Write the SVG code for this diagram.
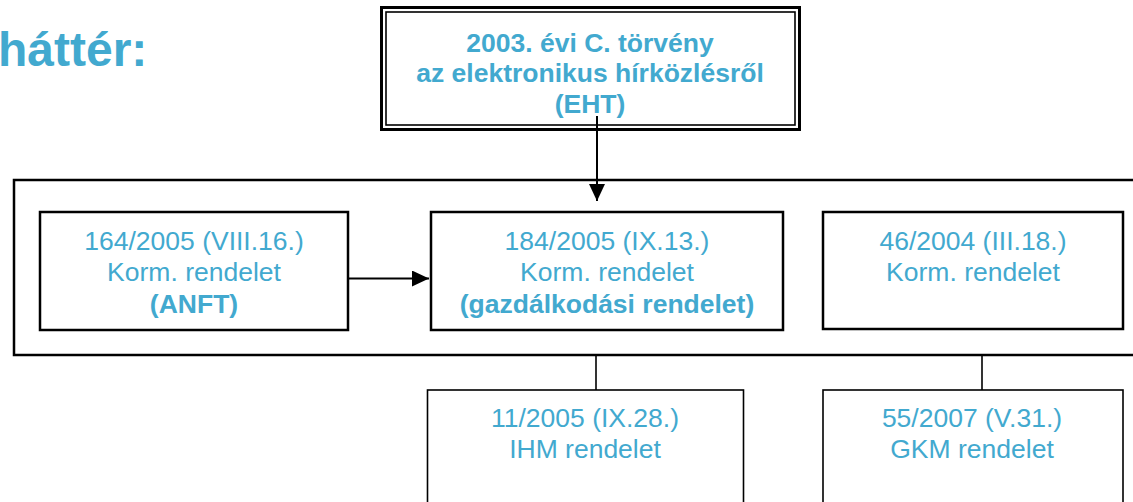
<svg xmlns="http://www.w3.org/2000/svg" width="1133" height="502" viewBox="0 0 1133 502">
<style>
.t{font-family:"Liberation Sans",Arial,sans-serif;fill:#42A9CF;text-anchor:middle;font-size:26.5px}
.b{font-weight:bold}
.box{fill:#fff;stroke:#000;stroke-width:2.5}
.sbox{fill:#fff;stroke:#000;stroke-width:1.6}
.c{stroke:#000;fill:none}
</style>
<defs>
<marker id="ah" markerUnits="userSpaceOnUse" markerWidth="18" markerHeight="16" refX="17" refY="8" orient="auto">
<path d="M0,0 L17,8 L0,16 Z" fill="#000"/>
</marker>
</defs>
<rect width="1133" height="502" fill="#fff"/>
<text x="-2" y="66" style="font-family:'Liberation Sans',Arial,sans-serif;font-weight:bold;font-size:48px;fill:#42A9CF">háttér:</text>
<g id="container">
<rect x="14" y="180" width="1130" height="175" fill="none" stroke="#000" stroke-width="2.5"/>
</g>
<g id="eht">
<rect x="381.5" y="7.5" width="418" height="122" fill="#fff" stroke="#000" stroke-width="3"/>
<rect x="386" y="12" width="409" height="113" fill="none" stroke="#000" stroke-width="1.6"/>
<text class="t b" x="590" y="52">2003. évi C. törvény</text>
<text class="t b" x="590" y="82">az elektronikus hírközlésről</text>
<text class="t b" x="590" y="113">(EHT)</text>
</g>
<g id="anft">
<rect class="box" x="40" y="212" width="308" height="118"/>
<text class="t" x="194" y="250">164/2005 (VIII.16.)</text>
<text class="t" x="194" y="281">Korm. rendelet</text>
<text class="t b" x="194" y="313">(ANFT)</text>
</g>
<g id="gazd">
<rect class="box" x="431" y="212" width="352" height="118"/>
<text class="t" x="607" y="250">184/2005 (IX.13.)</text>
<text class="t" x="607" y="281">Korm. rendelet</text>
<text class="t b" x="607" y="313">(gazdálkodási rendelet)</text>
</g>
<g id="r46">
<rect class="box" x="823" y="212" width="300" height="117"/>
<text class="t" x="973" y="250">46/2004 (III.18.)</text>
<text class="t" x="973" y="281">Korm. rendelet</text>
</g>
<g id="ihm">
<rect class="sbox" x="427.5" y="390" width="316" height="130"/>
<text class="t" x="585" y="427">11/2005 (IX.28.)</text>
<text class="t" x="585" y="458">IHM rendelet</text>
</g>
<g id="gkm">
<rect class="sbox" x="823" y="390" width="300" height="130"/>
<text class="t" x="972" y="427">55/2007 (V.31.)</text>
<text class="t" x="972" y="458">GKM rendelet</text>
</g>
<g id="connectors">
<line class="c" x1="597" y1="116" x2="597" y2="201" stroke-width="2" marker-end="url(#ah)"/>
<line class="c" x1="348" y1="278.5" x2="429" y2="278.5" stroke-width="2" marker-end="url(#ah)"/>
<line class="c" x1="596" y1="355" x2="596" y2="390" stroke-width="1.6"/>
<line class="c" x1="982" y1="355" x2="982" y2="390" stroke-width="1.6"/>
</g>
</svg>
